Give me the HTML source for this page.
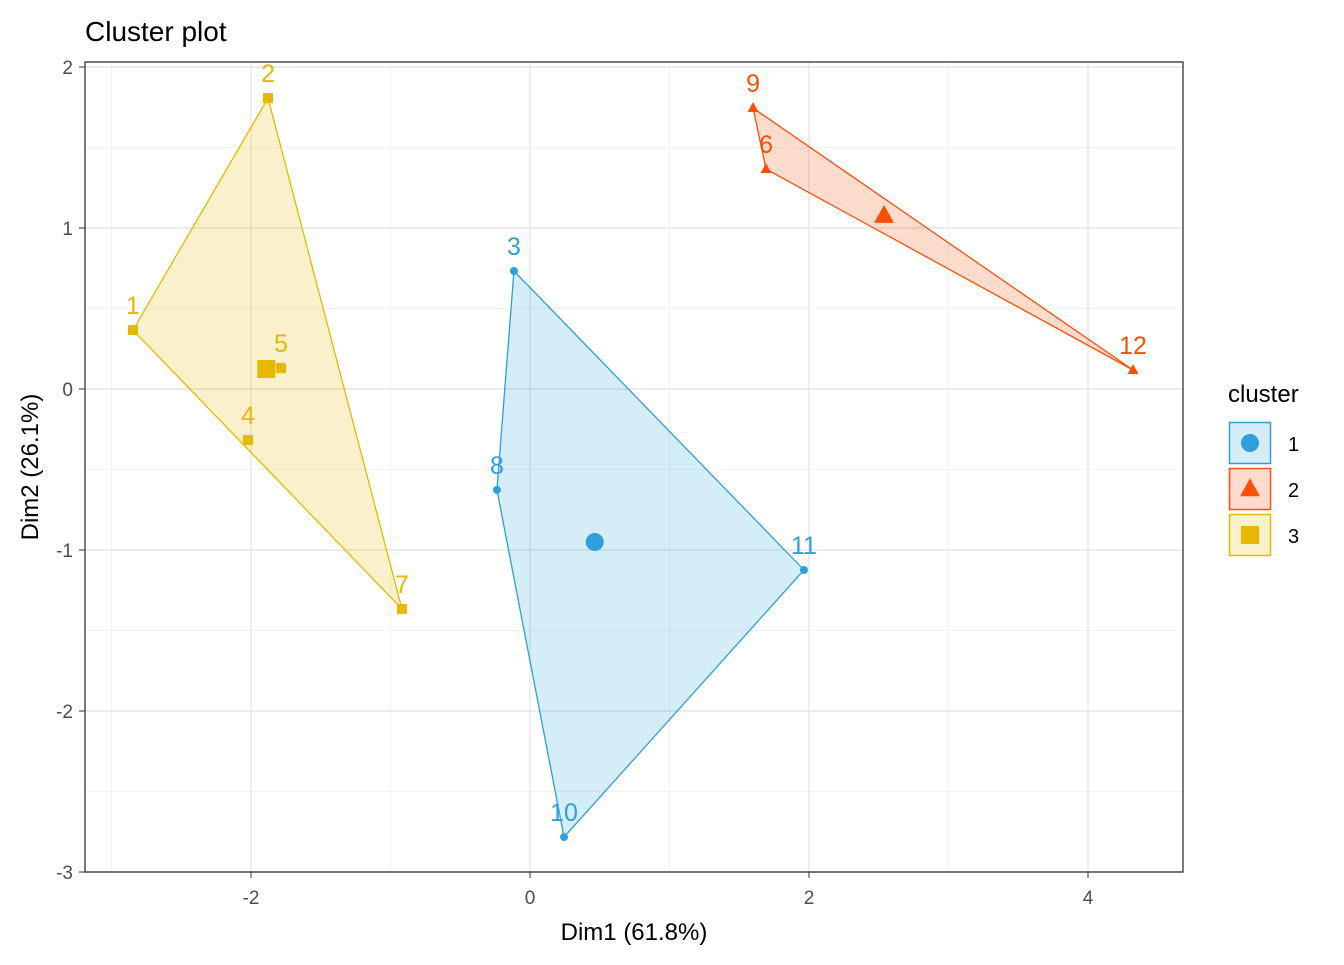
<!DOCTYPE html>
<html><head><meta charset="utf-8"><style>
body{margin:0;background:#fff}
svg text{font-family:"Liberation Sans",Arial,sans-serif}
</style></head><body>
<svg id="chart" width="1344" height="960" xmlns="http://www.w3.org/2000/svg">
<rect width="1344" height="960" fill="#fff"/>
<text x="85" y="41" font-size="28" fill="#000">Cluster plot</text>
<g id="grid"></g>
<g id="hulls"></g>
<g id="points"></g>
<rect x="85" y="62" width="1098" height="810" fill="none" stroke="#333" stroke-width="1.3"/>
<g id="axes"></g>
<text x="634" y="940" font-size="24" text-anchor="middle">Dim1 (61.8%)</text>
<text transform="translate(38,467) rotate(-90)" font-size="24" text-anchor="middle">Dim2 (26.1%)</text>
<g id="legend"></g>
</svg>
<script>
const ids=[1,2,3,4,5,6,7,8,9,10,11,12];
const dim1=[-2.846,-1.878,-0.115,-2.022,-1.785,1.692,-0.918,-0.237,1.599,0.244,1.964,4.323];
const dim2=[0.366,1.807,0.733,-0.317,0.130,1.366,-1.366,-0.627,1.745,-2.783,-1.124,0.118];
const clusters=[3,3,1,3,3,2,3,1,2,1,1,2];
const xTicks=[-2,0,2,4];
const xMinor=[-3,-1,1,3];
const yTicks=[2,1,0,-1,-2,-3];
const yMinor=[1.5,0.5,-0.5,-1.5,-2.5];
const clusterIds=[1,2,3];
const colors={1:"#2E9FDF",2:"#FC4E07",3:"#E7B800"};
const X=v=>530+v*139.5, Y=v=>389-v*161;
const NS="http://www.w3.org/2000/svg";
function mk(tag,attrs,parent){const e=document.createElementNS(NS,tag);for(const k in attrs)e.setAttribute(k,attrs[k]);parent.appendChild(e);return e;}
const grid=document.getElementById('grid');
function gl(x1,x2,y1,y2,minor,name){const l=mk('line',{x1,x2,y1,y2,stroke:minor?'#f2f2f2':'#e6e6e6','stroke-width':minor?1:1.4},grid);
 
 }
xMinor.forEach(v=>{const px=X(v);if(px>=85&&px<=1183)gl(px,px,62,872,true,'x-minor-gridline');});
yMinor.forEach(v=>{const py=Y(v);gl(85,1183,py,py,true,'y-minor-gridline');});
xTicks.forEach(v=>{const px=X(v);gl(px,px,62,872,false,'x-gridline');});
yTicks.forEach(v=>{const py=Y(v);gl(85,1183,py,py,false,'y-gridline');});
const axes=document.getElementById('axes');
xTicks.forEach(v=>{const px=X(v);mk('line',{x1:px,x2:px,y1:872,y2:878,stroke:'#333'},axes);
 const t=mk('text',{x:px,y:904,'font-size':19,'text-anchor':'middle',fill:'#4d4d4d'},axes);t.textContent=v;
 
 });
yTicks.forEach(v=>{const py=Y(v);mk('line',{x1:79,x2:85,y1:py,y2:py,stroke:'#333'},axes);
 const t=mk('text',{x:73,y:py+7,'font-size':19,'text-anchor':'end',fill:'#4d4d4d'},axes);t.textContent=v;
 
 });
function hull(pts){pts=pts.slice().sort((a,b)=>a[0]-b[0]||a[1]-b[1]);const cr=(o,a,b)=>(a[0]-o[0])*(b[1]-o[1])-(a[1]-o[1])*(b[0]-o[0]);
 const lo=[],up=[];for(const p of pts){while(lo.length>=2&&cr(lo[lo.length-2],lo[lo.length-1],p)<=0)lo.pop();lo.push(p);}
 for(const p of pts.slice().reverse()){while(up.length>=2&&cr(up[up.length-2],up[up.length-1],p)<=0)up.pop();up.push(p);}
 return lo.slice(0,-1).concat(up.slice(0,-1));}
const hg=document.getElementById('hulls'),pg=document.getElementById('points');
function marker(c,x,y,s,parent){let e;
 if(c==1)e=mk('circle',{cx:x,cy:y,r:s,fill:colors[c]},parent);
 else if(c==2)e=mk('polygon',{points:`${x},${y-s*1.2} ${x-s*1.1},${y+s*0.8} ${x+s*1.1},${y+s*0.8}`,fill:colors[c]},parent);
 else e=mk('rect',{x:x-s,y:y-s,width:2*s,height:2*s,fill:colors[c]},parent);return e;}
clusterIds.forEach(c=>{const pts=[];ids.forEach((id,i)=>{if(clusters[i]==c)pts.push([X(dim1[i]),Y(dim2[i])]);});
 const h=hull(pts);
 const p=mk('polygon',{points:h.map(q=>q.join(',')).join(' '),fill:colors[c],'fill-opacity':0.2,stroke:colors[c],'stroke-width':1.3},hg);
 
 
 const cx=pts.reduce((a,q)=>a+q[0],0)/pts.length, cy=pts.reduce((a,q)=>a+q[1],0)/pts.length;
 const m=marker(c,cx,cy,9,pg);
 
 });
ids.forEach((id,i)=>{const c=clusters[i],x=X(dim1[i]),y=Y(dim2[i]);
 const m=marker(c,x,y,c==1?4:5,pg);
 
 
 const t=mk('text',{x:x,y:y-16,'font-size':25,'text-anchor':'middle',fill:colors[c]},pg);t.textContent=id;
 
 });
const lg=document.getElementById('legend');
const lt=mk('text',{x:1228,y:402,'font-size':24},lg);lt.textContent='cluster';


clusterIds.forEach((c,k)=>{const y0=422+k*46;
 const g=mk('g',{},lg);
 
 
 mk('rect',{x:1229.5,y:y0+0.5,width:41,height:41,fill:colors[c],'fill-opacity':0.2,stroke:colors[c],'stroke-width':1.5},g);
 marker(c,1250,y0+21,9,g);
 const t=mk('text',{x:1288,y:y0+29,'font-size':20,fill:'#000'},g);t.textContent=c;});
</script>
</body></html>
